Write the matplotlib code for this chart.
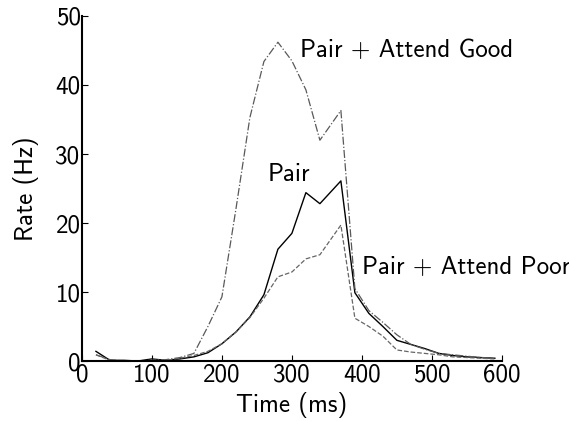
import matplotlib
matplotlib.use("Agg")
import matplotlib.pyplot as plt

plt.rcParams["font.family"] = ["cmss10", "DejaVu Sans"]
plt.rcParams["axes.unicode_minus"] = False
plt.rcParams["mathtext.fontset"] = "cm"

t = [20, 40, 60, 80, 100, 120, 140, 160, 180, 200, 220, 240, 260, 280, 300,
     320, 340, 370, 390, 410, 430, 450, 470, 490, 510, 530, 550, 570, 590]
pair = [1.4, 0.1, 0.1, 0.0, 0.3, 0.1, 0.3, 0.6, 1.2, 2.5, 4.2, 6.4, 9.6, 16.2, 18.5,
        24.4, 22.8, 26.1, 9.9, 6.9, 5.0, 3.0, 2.4, 1.8, 1.1, 0.8, 0.6, 0.5, 0.4]
good = [0.9, 0.2, 0.0, 0.0, 0.1, 0.2, 0.5, 1.1, 5.0, 9.3, 22.0, 35.3, 43.4, 46.2, 43.5,
        39.3, 32.0, 36.3, 10.5, 7.3, 5.6, 3.8, 2.4, 1.7, 1.1, 0.9, 0.7, 0.5, 0.4]
poor = [0.9, 0.1, 0.0, 0.0, 0.1, 0.1, 0.4, 0.8, 1.4, 2.5, 4.2, 6.3, 9.1, 12.2, 12.9,
        14.8, 15.4, 19.7, 6.2, 5.0, 3.6, 1.6, 1.3, 1.1, 0.9, 0.6, 0.5, 0.4, 0.3]

fig = plt.figure(figsize=(5.69, 4.21), dpi=100)
ax = fig.add_axes([0.144, 0.1425, 0.738, 0.8195])
ax.plot(t, pair, "-", color="black", lw=1.0)
ax.plot(t, good, "-.", color="0.35", lw=0.9)
ax.plot(t, poor, "--", color="0.4", lw=0.9)

ax.text(311, 45, "Pair + Attend Good", fontsize=18, va="center")
ax.text(266, 27, "Pair", fontsize=18, va="center")
ax.text(400, 13.5, "Pair + Attend Poor", fontsize=18, va="center")

ax.set_xlim(0, 600)
ax.set_ylim(0, 50)
ax.set_xticks([0, 100, 200, 300, 400, 500, 600])
ax.set_yticks([0, 10, 20, 30, 40, 50])
ax.spines["top"].set_visible(False)
ax.spines["right"].set_visible(False)
ax.spines["left"].set_linewidth(1.5)
ax.spines["bottom"].set_linewidth(1.5)
ax.tick_params(direction="in", length=4, labelsize=18)
ax.tick_params(axis="x", pad=2)
ax.tick_params(axis="y", pad=1)
ax.set_xlabel("Time (ms)", fontsize=18, labelpad=4)
ax.set_ylabel("Rate (Hz)", fontsize=18, labelpad=12)
fig.savefig("out.png", dpi=100)
